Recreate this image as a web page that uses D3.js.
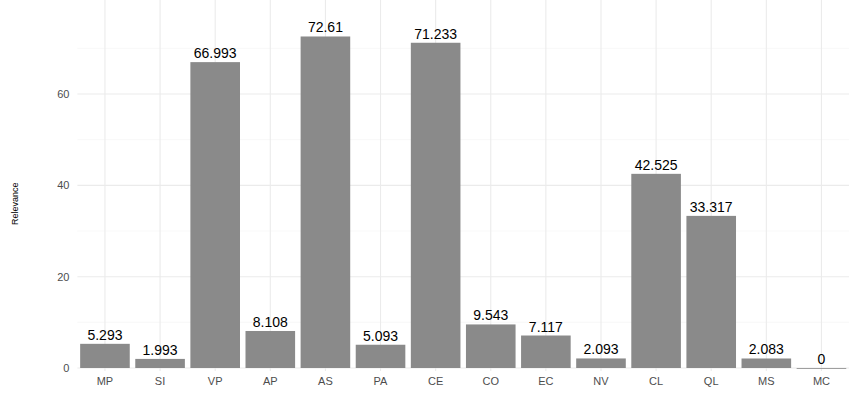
<!DOCTYPE html>
<html><head><meta charset="utf-8">
<script src="https://cdn.jsdelivr.net/npm/d3@7"></script>
<style>body{margin:0;background:#fff;font-family:"Liberation Sans",Arial,sans-serif}</style>
</head><body>
<script>
var categories = ["MP","SI","VP","AP","AS","PA","CE","CO","EC","NV","CL","QL","MS","MC"];
var values = [5.293,1.993,66.993,8.108,72.61,5.093,71.233,9.543,7.117,2.093,42.525,33.317,2.083,0];
var yTicks = [0,20,40,60];
var minorTicks = [10,30,50,70];

var width = 849, height = 407;
var margin = {left: 77.4, right: 0, top: 0};

var svg = d3.select("body").append("svg").attr("width", width).attr("height", height);

var x = d3.scaleBand().domain(categories)
  .range([margin.left, width - margin.right]).paddingInner(0.1).paddingOuter(0.05);
var y = d3.scaleLinear().domain([0, 80.6]).range([368, margin.top]);
var panelBottom = y(0) + 3;

//grid
svg.selectAll(".minor").data(minorTicks).enter().append("line")
  .attr("x1", margin.left).attr("x2", width).attr("y1", d => y(d)).attr("y2", d => y(d))
  .attr("stroke", "#f3f3f3").attr("stroke-width", 0.6);
svg.selectAll(".major").data(yTicks).enter().append("line")
  .attr("x1", margin.left).attr("x2", width).attr("y1", d => y(d)).attr("y2", d => y(d))
  .attr("stroke", "#ebebeb").attr("stroke-width", 1.1);
svg.selectAll(".vmajor").data(categories).enter().append("line")
  .attr("x1", d => x(d) + x.bandwidth()/2).attr("x2", d => x(d) + x.bandwidth()/2)
  .attr("y1", margin.top).attr("y2", panelBottom)
  .attr("stroke", "#ebebeb").attr("stroke-width", 1.1);

//bars
svg.selectAll(".bar").data(values).enter().append("rect")
  .attr("x", (d, i) => x(categories[i]))
  .attr("width", x.bandwidth())
  .attr("y", d => y(d))
  .attr("height", d => Math.max(y(0) - y(d), 0.8))
  .attr("fill", "#8a8a8a");

svg.selectAll(".lbl").data(values).enter().append("text")
  .attr("x", (d, i) => x(categories[i]) + x.bandwidth()/2)
  .attr("y", d => y(d) - 4)
  .attr("text-anchor", "middle").attr("font-size", 14).attr("fill", "#000")
  .text(d => d);

//axis labels
svg.selectAll(".yt").data(yTicks).enter().append("text")
  .attr("x", margin.left - 8).attr("y", d => y(d) + 4)
  .attr("text-anchor", "end").attr("font-size", 11).attr("fill", "#4d4d4d").text(d => d);
svg.selectAll(".xt").data(categories).enter().append("text")
  .attr("x", d => x(d) + x.bandwidth()/2).attr("y", y(0) + 17)
  .attr("text-anchor", "middle").attr("font-size", 11).attr("fill", "#4d4d4d").text(d => d);

svg.append("text")
  .attr("transform", "translate(18," + y(36) + ") rotate(-90)")
  .attr("text-anchor", "middle").attr("font-size", 9).attr("fill", "#000").text("Relevance");
</script>
</body></html>
